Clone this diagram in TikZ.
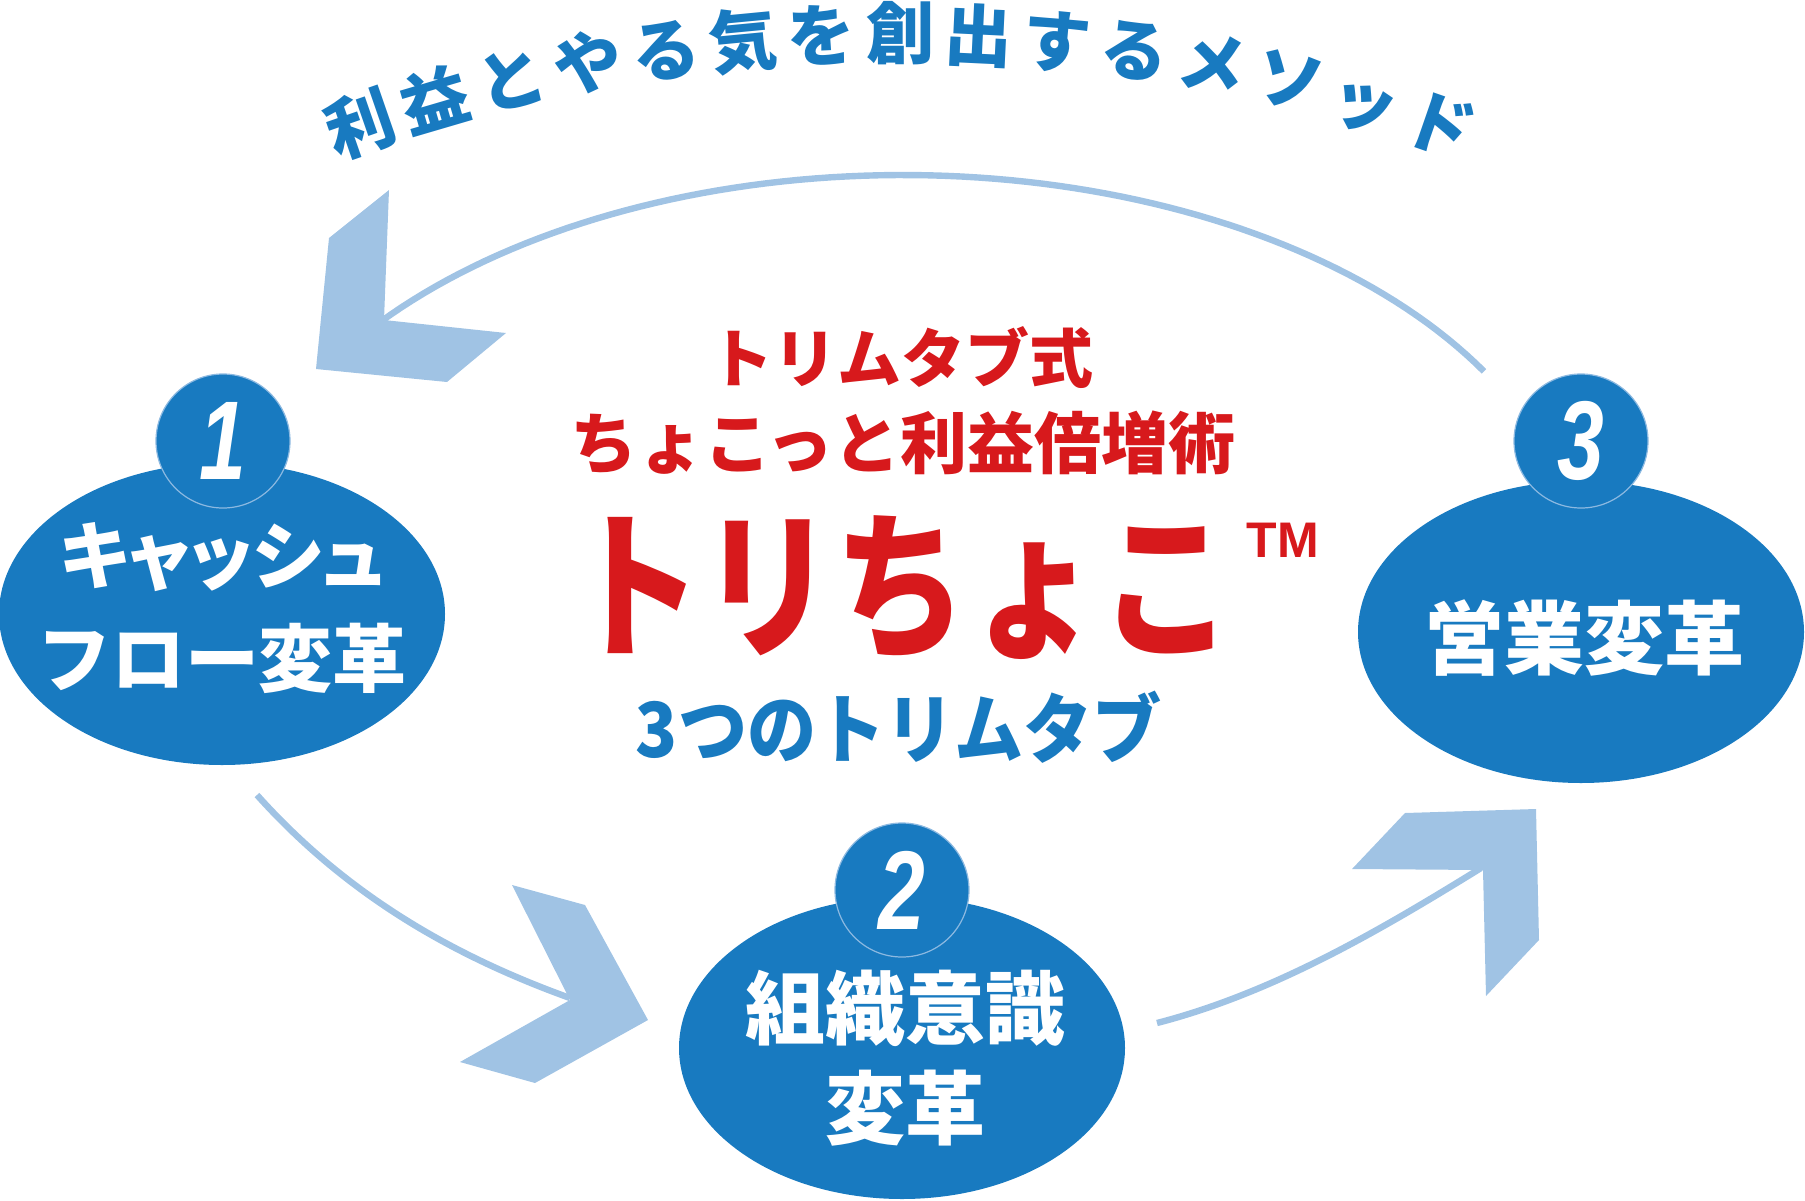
\documentclass[tikz,border=0pt]{standalone}
\usepackage{fontspec}
\usepackage{graphicx}
\newfontfamily\jp{Noto Sans CJK JP}
\newfontfamily\numfont{Liberation Sans}
\usetikzlibrary{shapes.geometric}
\definecolor{mainblue}{RGB}{24,122,192}
\definecolor{arrowblue}{RGB}{160,195,228}
\definecolor{tred}{RGB}{215,25,28}
\definecolor{badgeline}{RGB}{140,185,225}
\begin{document}
\begin{tikzpicture}[x=0.5pt,y=-0.5pt,
  bigell/.style={ellipse, fill=mainblue, minimum width=223pt, minimum height=151pt, inner sep=0pt},
  badge/.style={circle, fill=mainblue, draw=badgeline, line width=0.6pt, minimum size=67pt, inner sep=0pt,
    text=white, font=\numfont\bfseries\itshape\fontsize{56pt}{60pt}\selectfont},
  elltext/.style={text=white, align=center, inner sep=0pt},
  arctext/.style={text=mainblue, inner sep=0pt, text height=29.9pt, text depth=4.1pt,
    font=\jp\bfseries\fontsize{34pt}{40pt}\selectfont},
  arcline/.style={draw=arrowblue, line width=3.2pt},
  chevron/.style={fill=arrowblue}]
\useasboundingbox (0,0) rectangle (1805,1200);

% arc caption
\foreach \ch [count=\i from 0] in {利,益,と,や,る,気,を,創,出,す,る,メ,ソ,ッ,ド} {
  \pgfmathsetmacro\ang{-19.1+2.73*\i}
  \pgfmathsetmacro\rot{19.1-2.73*\i}
  \node[arctext, rotate=\rot] (w\i) at ({900+1650*sin(\ang)},{1683-1650*cos(\ang)}) {\ch};
}

% connector end points
\coordinate (topR) at (1484,369);
\coordinate (topL) at (381,320);
\coordinate (blS) at (257,795);
\coordinate (blE) at (570,998);
\coordinate (brS) at (1157,1023);
\coordinate (brE) at (1481,868);

% arcs
\draw[arcline] plot[domain=30.6:140.8, samples=80] ({903+675*cos(\x)},{575-400*sin(\x)});
\draw[arcline] (blS) .. controls (344,892) and (448,954) .. (blE);
\draw[arcline] (brS) .. controls (1273,993) and (1379,931) .. (brE);

% chevron heads
\fill[chevron] (389,190) -- (329,238) -- (316,369) -- (447,382) -- (506,333) -- (384,320) -- cycle;
\fill[chevron] (512,885) -- (585,905) -- (648,1020) -- (535,1083) -- (460,1062) -- (570,1000) -- cycle;
\fill[chevron] (1405,813) -- (1536,809) -- (1539,940) -- (1486,996) -- (1483,870) -- (1352,869) -- cycle;

% ellipses
\node[bigell] (e1) at (222,614) {};
\node[bigell] (e2) at (902,1048) {};
\node[bigell] (e3) at (1581,632) {};

% badges
\node[badge] (b1) at (223,441) {\scalebox{0.75}[1]{1}};
\node[badge] (b2) at (902,890) {\scalebox{0.75}[1]{2}};
\node[badge] (b3) at (1581,441) {\scalebox{0.75}[1]{3}};

% ellipse texts
\node[elltext, font=\jp\bfseries\fontsize{37pt}{51.5pt}\selectfont] (t1) at (222,608) {{\addfontfeatures{RawFeature=+palt}キャッシュ}\\フロー変革};
\node[elltext, font=\jp\bfseries\fontsize{40pt}{50pt}\selectfont] (t2) at (905,1058) {組織意識\\変革};
\node[elltext, font=\jp\bfseries\fontsize{40pt}{50pt}\selectfont] (t3) at (1584,638) {営業変革};

% centre title
\node[text=tred, inner sep=0pt, font=\jp\bfseries\fontsize{32pt}{36pt}\selectfont] (c1) at (901,358) {トリムタブ式};
\node[text=tred, inner sep=0pt, font=\jp\bfseries\fontsize{33.5pt}{36pt}\selectfont] (c2) at (903,443) {ちょこっと利益倍増術};
\node[text=tred, inner sep=0pt, xscale=0.83, font=\jp\bfseries\fontsize{80pt}{90pt}\selectfont] (c3) at (901,588) {トリちょこ};
\node[text=tred, inner sep=0pt, font=\numfont\bfseries\fontsize{25pt}{28pt}\selectfont] (tm) at (1283,540) {TM};
\node[text=mainblue, inner sep=0pt, xscale=0.91, font=\jp\bfseries\fontsize{38pt}{42pt}\selectfont] (c4) at (899,727) {3つのトリムタブ};
\end{tikzpicture}
\end{document}
